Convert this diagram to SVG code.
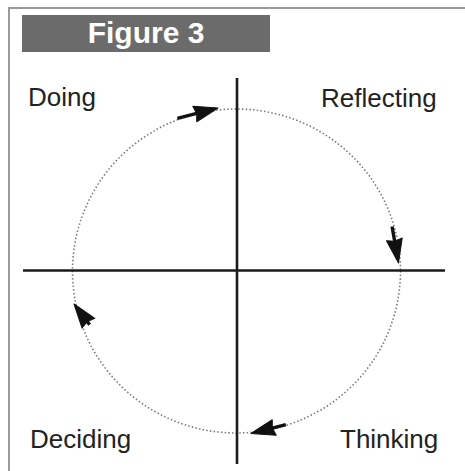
<svg xmlns="http://www.w3.org/2000/svg" width="465" height="471" viewBox="0 0 465 471">
  <style>
    .lbl { font-family: "Liberation Sans", Arial, sans-serif; font-size: 26px; fill: #222; }
    .title { font-family: "Liberation Sans", Arial, sans-serif; font-size: 30px; font-weight: bold; fill: #fff; }
    .axis { stroke: #1a1a1a; stroke-width: 2.6; fill: none; }
    .frame { stroke: #9a9a9a; stroke-width: 2; fill: none; }
    .cycle { stroke: #7a7a7a; stroke-width: 1.6; stroke-dasharray: 1.5 2.2; fill: none; }
    .arr { stroke: #111; stroke-width: 3.4; fill: none; }
    .head { fill: #111; stroke: #111; stroke-width: 1; stroke-linejoin: round; }
  </style>
  <defs>
    <path id="hd" class="head" d="M0,0 L-24,-8 L-22,0 L-24,8 z"/>
  </defs>
  <rect width="465" height="471" fill="#fff"/>
  <g id="frame">
    <path class="frame" d="M9,471 V8 H465"/>
  </g>
  <g id="title">
    <rect x="22" y="15" width="248" height="37" fill="#6b6b6b"/>
    <text class="title" x="146" y="43" text-anchor="middle">Figure 3</text>
  </g>
  <g id="cycle">
    <ellipse class="cycle" cx="236.5" cy="271" rx="164" ry="162"/>
  </g>
  <g id="axes">
    <line class="axis" x1="23" y1="270.5" x2="445" y2="270.5"/>
    <line class="axis" x1="237" y1="78" x2="237" y2="464"/>
  </g>
  <g id="connectors">
    <g transform="translate(218,108) rotate(-14.4)">
      <line class="arr" x1="-42" y1="0" x2="-20" y2="0"/>
      <use href="#hd"/>
    </g>
    <g transform="translate(398.5,263) rotate(80)">
      <line class="arr" x1="-37" y1="0" x2="-20" y2="0"/>
      <use href="#hd"/>
    </g>
    <g transform="translate(251,433.5) rotate(165.6)">
      <line class="arr" x1="-36" y1="0" x2="-20" y2="0"/>
      <use href="#hd"/>
    </g>
    <g transform="translate(74,304) rotate(233)">
      <line class="arr" x1="-26" y1="0" x2="-20" y2="0"/>
      <use href="#hd"/>
    </g>
  </g>
  <g id="doing"><text class="lbl" x="28" y="106">Doing</text></g>
  <g id="reflecting"><text class="lbl" x="321" y="107">Reflecting</text></g>
  <g id="deciding"><text class="lbl" x="30" y="448">Deciding</text></g>
  <g id="thinking"><text class="lbl" x="340" y="448">Thinking</text></g>
</svg>
